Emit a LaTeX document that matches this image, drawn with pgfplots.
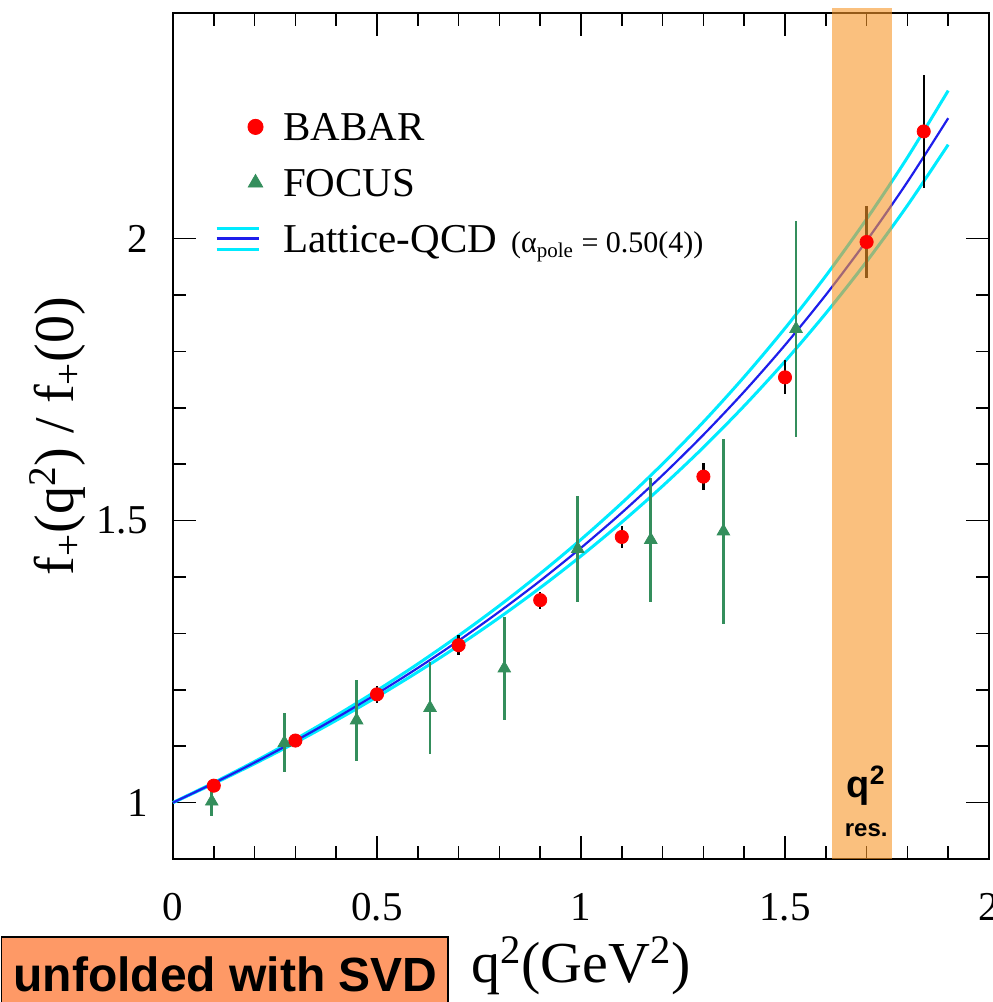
\documentclass[border=0pt]{standalone}
\usepackage{fontspec}
\setmainfont{Liberation Serif}
\newfontfamily\arialfont{Liberation Sans}
\usepackage{pgfplots}
\pgfplotsset{compat=1.18}

\definecolor{babarred}{RGB}{255,0,0}
\definecolor{focusgreen}{RGB}{52,142,92}
\definecolor{latcyan}{RGB}{0,235,255}
\definecolor{latblue}{RGB}{30,30,235}
\definecolor{bandorange}{RGB}{247,150,40}
\definecolor{boxorange}{RGB}{254,153,102}

\pgfplotstableread{
x      y      e
0.1    1.030  0.010
0.3    1.110  0.010
0.5    1.192  0.015
0.7    1.279  0.018
0.9    1.359  0.015
1.1    1.471  0.020
1.3    1.578  0.024
1.5    1.754  0.030
1.7    1.994  0.063
1.84   2.190  0.100
}\babar

\pgfplotstableread{
x      y      e
0.095  1.002  0.025
0.273  1.106  0.052
0.450  1.146  0.072
0.630  1.168  0.082
0.812  1.238  0.091
0.992  1.450  0.094
1.171  1.466  0.110
1.349  1.481  0.164
1.527  1.840  0.191
}\focus

\pgfplotsset{
  babarleg/.style={legend image code/.code={\path[draw=none,fill=none] (0pt,-6pt) rectangle (21pt,6pt);
     \draw[babarred, mark=*, mark size=3.8pt, only marks] plot coordinates {(19.5pt,0pt)};}},
  focusleg/.style={legend image code/.code={\path[draw=none,fill=none] (0pt,-6pt) rectangle (21pt,6pt);
     \draw[focusgreen, mark=triangle*, mark size=4.2pt, only marks] plot coordinates {(19.5pt,0pt)};}},
  latleg/.style={legend image code/.code={\path[draw=none,fill=none] (0pt,-6pt) rectangle (21pt,6pt);
     \draw[latcyan, line width=1.5pt] (0pt,5.25pt) -- (21pt,5.25pt);
     \draw[latcyan, line width=1.5pt] (0pt,-5.25pt) -- (21pt,-5.25pt);
     \draw[latblue, line width=1.4pt] (0pt,0pt) -- (21pt,0pt);}},
}

\begin{document}
\begin{tikzpicture}
\begin{axis}[
  at={(0,0)}, anchor=south west,
  scale only axis, width=408pt, height=423pt,
  xmin=0, xmax=2, ymin=0.9, ymax=2.4,
  xtick={0,0.5,1,1.5,2}, ytick={1,1.5,2},
  minor x tick num=4, minor y tick num=4,
  tick align=inside, tick pos=both,
  major tick length=11.5pt, minor tick length=6.5pt,
  every tick/.style={black, line width=0.8pt},
  axis line style={line width=1pt},
  clip=false,
  /pgf/number format/assume math mode=true,
  tick label style={font=\rmfamily\fontsize{20.5}{24}\selectfont},
  xticklabel style={anchor=base, yshift=-30.5pt},
  yticklabel style={anchor=east, inner sep=0pt, xshift=-12.5pt},
  every axis x label/.style={at={(axis description cs:0.5,-0.1454)}, anchor=base, font=\rmfamily\fontsize{29}{34}\selectfont},
  every axis y label/.style={at={(axis description cs:-0.141,0.5)}, rotate=90, anchor=center, font=\rmfamily\fontsize{28}{33}\selectfont},
  xlabel={q\textsuperscript{2}(GeV\textsuperscript{2})},
  ylabel={f\textsubscript{+}(q\textsuperscript{2}) / f\textsubscript{+}(0)},
  legend cell align=left,
  legend style={at={(axis description cs:0.0515,0.889)}, anchor=north west,
    draw=none, fill=none, inner sep=0pt, outer sep=0pt,
    row sep=8pt, column sep=10pt,
    nodes={inner sep=0pt, text height=16.75pt, text depth=3.25pt},
    font=\rmfamily\fontsize{20.5}{24}\selectfont},
]
\addlegendimage{babarleg}
\addlegendentry{BABAR}
\addlegendimage{focusleg}
\addlegendentry{FOCUS}
\addlegendimage{latleg}
\addlegendentry{Lattice-QCD\hspace{7pt}{\fontsize{15}{18}\selectfont(α\textsubscript{pole} = 0.50(4))}}

% lattice QCD band
\addplot[latcyan, line width=1.5pt, smooth, forget plot] coordinates {
(0,1) (0.1,1.0355) (0.2,1.0729) (0.3,1.1125) (0.4,1.1544) (0.5,1.1988) (0.6,1.2459) (0.7,1.2960) (0.8,1.3492) (0.9,1.4060) (1.0,1.4665) (1.1,1.5312) (1.2,1.6006) (1.3,1.6749) (1.4,1.7549) (1.5,1.8410) (1.6,1.9339) (1.7,2.0346) (1.8,2.1437) (1.9,2.2624)};
\addplot[latcyan, line width=1.5pt, smooth, forget plot] coordinates {
(0,1) (0.1,1.0336) (0.2,1.0690) (0.3,1.1063) (0.4,1.1458) (0.5,1.1875) (0.6,1.2316) (0.7,1.2784) (0.8,1.3281) (0.9,1.3809) (1.0,1.4372) (1.1,1.4972) (1.2,1.5613) (1.3,1.6298) (1.4,1.7034) (1.5,1.7824) (1.6,1.8675) (1.7,1.9593) (1.8,2.0587) (1.9,2.1666)};
\addplot[latblue, line width=1.1pt, smooth, forget plot] coordinates {
(0,1) (0.1,1.0345) (0.2,1.0710) (0.3,1.1094) (0.4,1.1501) (0.5,1.1931) (0.6,1.2387) (0.7,1.2871) (0.8,1.3386) (0.9,1.3933) (1.0,1.4517) (1.1,1.5140) (1.2,1.5807) (1.3,1.6521) (1.4,1.7287) (1.5,1.8112) (1.6,1.9001) (1.7,1.9962) (1.8,2.1004) (1.9,2.2135)};

% FOCUS error bars, then markers
\addplot[draw=none, mark=none, forget plot,
  error bars/.cd, y dir=both, y explicit, error mark=none,
  error bar style={line width=1.3pt, focusgreen}]
  table[x=x, y=y, y error=e] {\focus};
\addplot[only marks, mark=triangle*, mark size=3.6pt, color=focusgreen, forget plot]
  table[x=x, y=y] {\focus};
% BABAR error bars, then markers
\addplot[draw=none, mark=none, forget plot,
  error bars/.cd, y dir=both, y explicit, error mark=none,
  error bar style={line width=1.2pt, black}]
  table[x=x, y=y, y error=e] {\babar};
\addplot[only marks, mark=*, mark size=3.3pt, color=babarred, forget plot]
  table[x=x, y=y] {\babar};

% resonance band
\fill[bandorange, fill opacity=0.6] (axis cs:1.615,0.9) rectangle (axis cs:1.762,2.409);
\node[font=\arialfont\bfseries\fontsize{19}{22}\selectfont, anchor=base] at (axis cs:1.699,1.009) {q\textsuperscript{2}};
\node[font=\arialfont\bfseries\fontsize{12}{14}\selectfont, anchor=base] at (axis cs:1.699,0.9395) {res.};

% box
\draw[fill=boxorange, line width=0.6pt] (axis description cs:-0.2102,-0.0922) rectangle (axis description cs:0.337,-0.19);
\node[anchor=base west, inner sep=0pt, font=\arialfont\bfseries\fontsize{24}{28}\selectfont] at (axis description cs:-0.196,-0.1572) {unfolded with SVD};
\end{axis}
\pgfresetboundingbox
\path[use as bounding box] (-86.5pt,-71.5pt) rectangle (409.5pt,429.5pt);
\end{tikzpicture}
\end{document}
